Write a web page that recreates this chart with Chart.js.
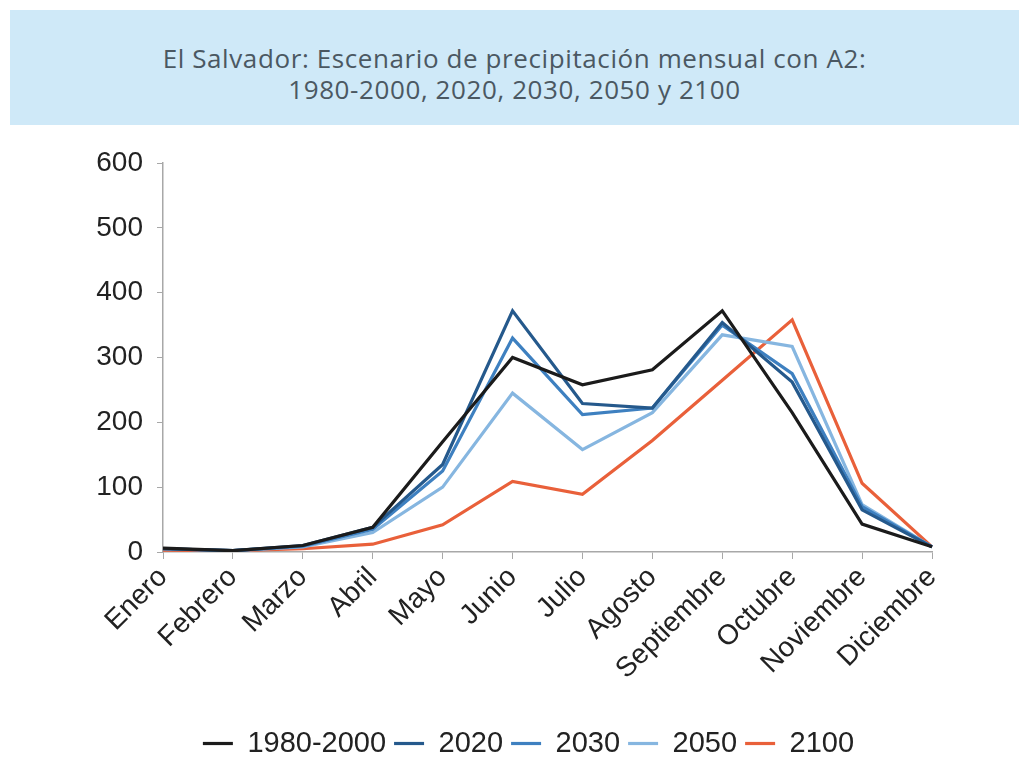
<!DOCTYPE html>
<html>
<head>
<meta charset="utf-8">
<script src="https://cdn.jsdelivr.net/npm/chart.js@4"></script>
<style>
  body { margin: 0; background: #fff; }
  #wrap { position: relative; width: 1019px; height: 759px; }
  #title {
    position: absolute; left: 10px; top: 10px; width: 1009px; height: 115px;
    background: #cfe9f8; color: #4b5862;
    font-family: "Open Sans", sans-serif; font-size: 26px; line-height: 31px;
    text-align: center; box-sizing: border-box; padding-top: 33px;
    letter-spacing: 0.6px;
  }
  canvas { position: absolute; left: 0; top: 0; }
</style>
</head>
<body>
<div id="wrap">
  <canvas id="chart" width="1019" height="759"></canvas>
  <div id="title">El Salvador: Escenario de precipitación mensual con A2:<br>1980-2000, 2020, 2030, 2050 y 2100</div>
</div>
<script>
const months = ["Enero", "Febrero", "Marzo", "Abril", "Mayo", "Junio", "Julio", "Agosto", "Septiembre", "Octubre", "Noviembre", "Diciembre"];
const base = [6, 2, 10, 38, 170, 300, 258, 281, 372, 215, 43, 8];
const y2020 = [5, 2, 10, 38, 135, 372, 229, 222, 354, 262, 65, 8];
const y2030 = [5, 2, 9, 35, 125, 330, 212, 222, 350, 275, 70, 8];
const y2050 = [5, 2, 8, 30, 100, 245, 158, 215, 335, 317, 73, 8];
const y2100 = [3, 2, 5, 12, 42, 109, 89, 172, 265, 358, 106, 8];
const yTicks = [0, 100, 200, 300, 400, 500, 600];

const axisColor = "#a8a8a8";
const fontFamily = "'Liberation Sans', Arial, sans-serif";

function series(label, data, color) {
    return { label: label, data: data, borderColor: color, backgroundColor: color,
             borderWidth: 3.2, pointRadius: 0, tension: 0 };
}

new Chart(document.getElementById("chart"), {
    type: "line",
    data: {
        labels: months,
        datasets: [
            series("1980-2000", base, "#1b1b1b"),
            series("2020", y2020, "#25598c"),
            series("2030", y2030, "#3e80c0"),
            series("2050", y2050, "#86b6e0"),
            series("2100", y2100, "#e9603a")
        ]
    },
    options: {
        responsive: false,
        devicePixelRatio: 1,
        animation: false,
        layout: { padding: { top: 163, right: 0, left: 38, bottom: -9 } },
        plugins: {
            title: { display: false },
            tooltip: { enabled: false },
            legend: {
                position: "bottom",
                labels: {
                    usePointStyle: true,
                    pointStyle: "line",
                    pointStyleWidth: 30,
                    color: "#222",
                    font: { family: fontFamily, size: 29 },
                    padding: 8
                }
            }
        },
        scales: {
            x: {
                offset: false,
                border: { color: axisColor, width: 1.5 },
                grid: { drawOnChartArea: false, color: axisColor, tickLength: 7 },
                ticks: { color: "#222", font: { family: fontFamily, size: 28 }, maxRotation: 45, minRotation: 45, padding: 2 },
                afterFit: function (scale) { scale.height = 169; }
            },
            y: {
                min: 0,
                max: 600,
                border: { color: axisColor, width: 1.5 },
                grid: { drawOnChartArea: false, color: axisColor, tickLength: 6 },
                afterBuildTicks: function (scale) { scale.ticks = yTicks.map(v => ({ value: v })); },
                ticks: { color: "#222", font: { family: fontFamily, size: 28 }, padding: 14 },
                afterFit: function (scale) { scale.width = 125; }
            },
            // empty right-hand axis only to reserve the blank space right of the plot
            yRight: {
                position: "right",
                display: true,
                border: { display: false },
                grid: { display: false },
                ticks: { display: false },
                afterFit: function (scale) { scale.width = 87; }
            }
        }
    }
});
</script>
</body>
</html>
